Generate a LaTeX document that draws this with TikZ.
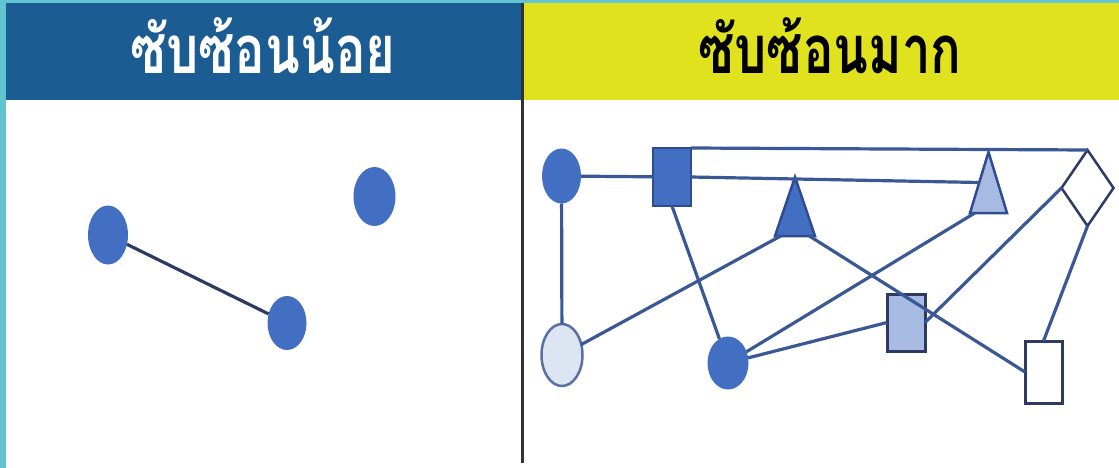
\documentclass[tikz,border=0pt]{standalone}
\usepackage{fontspec}
\newfontfamily\thaifont[Script=Thai, FakeStretch=0.76]{Loma}
\usetikzlibrary{shapes.geometric}
\definecolor{hdrblue}{HTML}{1B5C93}
\definecolor{hdryellow}{HTML}{E0E21E}
\definecolor{stripcyan}{HTML}{62C3D1}
\definecolor{nodeblue}{HTML}{436FC2}
\definecolor{paleblue}{HTML}{A7BBE2}
\definecolor{mistblue}{HTML}{DDE4F2}
\definecolor{linkblue}{HTML}{3B5896}
\definecolor{rimblue}{HTML}{2E4C8E}
\definecolor{rimdark}{HTML}{2D3B62}

\begin{document}
\begin{tikzpicture}[x=1pt, y=-1pt,
    blob/.style={ellipse, fill=nodeblue, inner sep=0pt, outer sep=0pt},
    box/.style={rectangle, draw=rimblue, line width=2.5pt, inner sep=0pt, outer sep=0pt},
    tri/.style={isosceles triangle, shape border rotate=90, isosceles triangle stretches,
      draw=rimblue, line width=2.5pt, inner sep=0pt, outer sep=0pt, anchor=south},
    link/.style={draw=linkblue, line width=3.2pt},
    title/.style={font=\thaifont\bfseries\fontsize{67}{67}\selectfont, anchor=base}]
    \useasboundingbox (0,0) rectangle (1119,468);
    % background and headers
    \fill[white] (0,0) rectangle (1119,468);
    \fill[stripcyan] (0,0) rectangle (6,468);
    \fill[stripcyan] (0,0) rectangle (1119,3);
    \fill[hdrblue] (6,3) rectangle (522,100);
    \fill[hdryellow] (523,3) rectangle (1119,100);
    \draw[line width=2.2pt, black!80] (522.5,3) -- (522.5,463);
    \node[title, text=white] (lowtitle) at (263,74) {ซับซ้อนน้อย};
    \node[title, text=black] (hightitle) at (830,74) {ซับซ้อนมาก};

    % left panel
    \node[blob, minimum width=40pt, minimum height=59pt] (l1) at (108,235) {};
    \node[blob, minimum width=42pt, minimum height=59pt] (l2) at (374.5,196.5) {};
    \node[blob, minimum width=39pt, minimum height=54pt] (l3) at (287,323) {};
    \path[link, draw=rimdark] (l1) edge (l3);

    % right panel
    \node[blob, minimum width=39pt, minimum height=55pt] (e1) at (561.5,176) {};
    \node[box, fill=nodeblue, minimum width=38pt, minimum height=58pt] (s1) at (672,177) {};
    \node[tri, fill=nodeblue, minimum width=40pt, minimum height=59pt] (t1) at (795,236) {};
    \node[tri, fill=paleblue, minimum width=37pt, minimum height=61pt] (t2) at (988.5,213) {};
    \node[diamond, draw=rimdark, fill=white, line width=2.5pt, inner sep=0pt, outer sep=0pt,
      minimum width=52pt, minimum height=76pt] (dia) at (1087.5,188) {};
    \node[blob, fill=mistblue, draw=rimblue!80, line width=2.5pt,
      minimum width=41pt, minimum height=62pt] (e2) at (562,355) {};
    \node[blob, minimum width=41pt, minimum height=53pt] (e3) at (728,363) {};
    \node[box, fill=paleblue, draw=rimdark, line width=3pt,
      minimum width=38pt, minimum height=57pt] (r1) at (906,322.5) {};
    \node[box, fill=white, draw=rimdark, line width=3pt,
      minimum width=37pt, minimum height=62pt] (r2) at (1043.5,372) {};

    \path[link]
    (e1) edge (s1)
    (s1.north east) edge (dia.north)
    (s1.east) edge (t2.left side)
    (e1) edge (e2)
    (s1.south) edge (e3)
    (e2) edge (t1.south west)
    (t1.south east) edge (r2.west)
    (e3) edge (t2.south west)
    (e3) edge (r1.west)
    (r1.east) edge (dia.west)
    (dia.south) edge (r2.north);
\end{tikzpicture}
\end{document}
